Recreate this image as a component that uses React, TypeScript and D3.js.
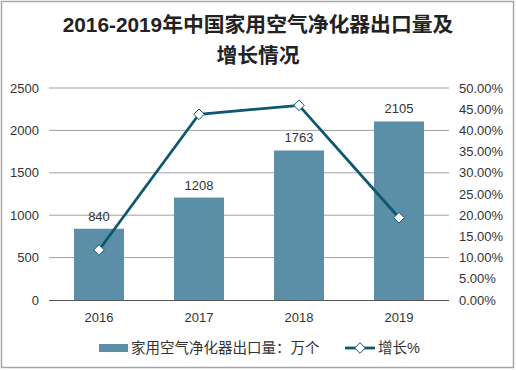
import { useRef, useEffect } from "react";
import * as d3 from "d3";

const years = ["2016", "2017", "2018", "2019"];
const exports = [840, 1208, 1763, 2105];
const growth = [0.118, 0.438, 0.459, 0.194];
const leftTicks = [0, 500, 1000, 1500, 2000, 2500];
const rightTicks = [0, 0.05, 0.1, 0.15, 0.2, 0.25, 0.3, 0.35, 0.4, 0.45, 0.5];
const titleLines = ["2016-2019年中国家用空气净化器出口量及", "增长情况"];
const barLabel = "家用空气净化器出口量：万个";
const lineLabel = "增长%";

const W = 516;
const H = 370;
const font = "'Liberation Sans', Arial, 'Noto Sans CJK SC', sans-serif";
const barColor = "#5b8fa7";
const lineColor = "#0d5770";

const Chart = () => {
    const ref = useRef<SVGSVGElement>(null);

    useEffect(() => {
        const svg = d3.select(ref.current);
        svg.selectAll("*").remove();

        // frame
        svg.append("rect")
            .attr("x", 1.5).attr("y", 1.5)
            .attr("width", W - 4).attr("height", H - 4)
            .attr("fill", "#fff")
            .attr("stroke", "#a6a6a6")
            .attr("stroke-width", 1.5);

        // title
        svg.append("g").selectAll("text")
            .data(titleLines)
            .join("text")
            .attr("x", 258)
            .attr("y", (d, i) => 32 + i * 31)
            .attr("text-anchor", "middle")
            .attr("font-family", font)
            .attr("font-size", 20.8)
            .attr("font-weight", "bold")
            .attr("fill", "#222")
            .text(d => d);

        const x = d3.scaleBand().domain(years).range([49, 449]).paddingInner(0.5).paddingOuter(0.25);
        const y = d3.scaleLinear().domain([0, 2500]).range([300, 88]);
        const y2 = d3.scaleLinear().domain([0, 0.5]).range([300, 88]);

        // gridlines
        svg.append("g").selectAll("line")
            .data(leftTicks.slice(1))
            .join("line")
            .attr("x1", 49).attr("x2", 449)
            .attr("y1", d => y(d)).attr("y2", d => y(d))
            .attr("stroke", "#a0a0a0")
            .attr("stroke-width", 1);

        // left labels
        svg.append("g").selectAll("text")
            .data(leftTicks)
            .join("text")
            .attr("x", 39)
            .attr("y", d => y(d) + 4.5)
            .attr("text-anchor", "end")
            .attr("font-family", font)
            .attr("font-size", 13)
            .attr("fill", "#333")
            .text(d => d);

        // right labels
        svg.append("g").selectAll("text")
            .data(rightTicks)
            .join("text")
            .attr("x", 459)
            .attr("y", d => y2(d) + 4.5)
            .attr("font-family", font)
            .attr("font-size", 13)
            .attr("fill", "#333")
            .text(d => (d * 100).toFixed(2) + "%");

        // bars
        svg.append("g").selectAll("rect")
            .data(exports)
            .join("rect")
            .attr("x", (d, i) => x(years[i])!)
            .attr("y", d => y(d))
            .attr("width", x.bandwidth())
            .attr("height", d => 300 - y(d))
            .attr("fill", barColor);

        // bar labels
        svg.append("g").selectAll("text")
            .data(exports)
            .join("text")
            .attr("x", (d, i) => x(years[i])! + x.bandwidth() / 2)
            .attr("y", d => y(d) - 8)
            .attr("text-anchor", "middle")
            .attr("font-family", font)
            .attr("font-size", 13)
            .attr("fill", "#333")
            .text(d => d);

        // baseline
        svg.append("line")
            .attr("x1", 49).attr("x2", 449)
            .attr("y1", 300.5).attr("y2", 300.5)
            .attr("stroke", "#555")
            .attr("stroke-width", 1.2);

        // x labels
        svg.append("g").selectAll("text")
            .data(years)
            .join("text")
            .attr("x", d => x(d)! + x.bandwidth() / 2)
            .attr("y", 322)
            .attr("text-anchor", "middle")
            .attr("font-family", font)
            .attr("font-size", 13)
            .attr("fill", "#333")
            .text(d => d);

        // growth line
        const line = d3.line<number>()
            .x((d, i) => x(years[i])! + x.bandwidth() / 2)
            .y(d => y2(d));
        svg.append("path")
            .datum(growth)
            .attr("d", line)
            .attr("fill", "none")
            .attr("stroke", lineColor)
            .attr("stroke-width", 2.8);

        const diamond = d3.symbol().type(d3.symbolDiamond2).size(72);
        svg.append("g").selectAll("path")
            .data(growth)
            .join("path")
            .attr("d", diamond)
            .attr("transform", (d, i) => `translate(${x(years[i])! + x.bandwidth() / 2},${y2(d)})`)
            .attr("fill", "#fff")
            .attr("stroke", lineColor)
            .attr("stroke-width", 1);

        // legend
        const lg = svg.append("g");
        lg.append("rect")
            .attr("x", 99).attr("y", 344)
            .attr("width", 29).attr("height", 8)
            .attr("fill", barColor);
        lg.append("text")
            .attr("x", 131).attr("y", 353)
            .attr("font-family", font)
            .attr("font-size", 14.5)
            .attr("fill", "#333")
            .text(barLabel);
        lg.append("line")
            .attr("x1", 345).attr("x2", 375)
            .attr("y1", 348).attr("y2", 348)
            .attr("stroke", lineColor)
            .attr("stroke-width", 2.8);
        lg.append("path")
            .attr("d", diamond)
            .attr("transform", "translate(360,348)")
            .attr("fill", "#fff")
            .attr("stroke", lineColor)
            .attr("stroke-width", 1);
        lg.append("text")
            .attr("x", 378).attr("y", 353)
            .attr("font-family", font)
            .attr("font-size", 14.5)
            .attr("fill", "#333")
            .text(lineLabel);
    }, []);

    return (
        <svg ref={ref} width={W} height={H}
            style={{ position: "absolute", left: 0, top: 0, background: "#fff" }} />
    );
};

export default function App() {
    return <Chart />;
}
